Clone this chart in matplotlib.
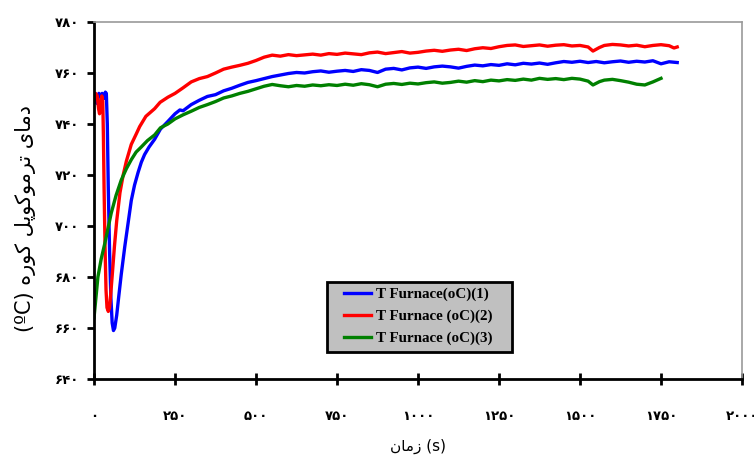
import matplotlib
matplotlib.use('Agg')
import matplotlib.pyplot as plt
from matplotlib.patches import Rectangle
from matplotlib.ticker import FuncFormatter, MultipleLocator

# furnace thermocouple readings
t_blue = [0, 5, 10, 15, 20, 25, 30, 35, 38, 41, 44, 48, 52, 56, 60, 64, 70, 76, 84,
          95, 105, 115, 125, 136, 146, 156, 170, 187, 205, 228,
          250, 265, 275, 300, 325, 350, 375, 400, 425, 450, 475, 500, 525, 550, 575,
          600, 625, 650, 675, 700, 725, 750, 775, 800, 825, 850, 875, 900, 925, 950,
          975, 1000, 1025, 1050, 1075, 1100, 1125, 1150, 1175, 1200, 1225, 1250, 1275,
          1300, 1325, 1350, 1375, 1400, 1425, 1450, 1475, 1500, 1525, 1550, 1575, 1600,
          1625, 1650, 1675, 1700, 1725, 1750, 1775, 1800]
T_blue = [748.5, 750, 748, 752, 751, 752, 750, 752.5, 752, 740, 715, 690, 672, 662, 659, 660, 665, 672, 681,
          692, 701, 710, 716, 721, 725, 728, 731, 734, 738, 741,
          744.0, 745.5, 745.2, 747.6, 749.3, 750.8, 751.5, 753.0, 754.0, 755.2, 756.3, 757.0, 757.8, 758.6, 759.2,
          759.8, 760.2, 760.0, 760.5, 760.8, 760.3, 760.7, 761.0, 760.6, 761.3, 761.0, 760.2, 761.5, 761.8, 761.2,
          762.0, 762.3, 761.8, 762.4, 762.7, 762.4, 761.9, 762.6, 763.1, 762.8, 763.3, 763.0, 763.6,
          763.2, 763.8, 763.5, 763.9, 763.4, 764.0, 764.5, 764.2, 764.6, 764.1, 764.5, 764.0, 764.4,
          764.7, 764.2, 764.6, 764.3, 764.8, 763.6, 764.4, 764.1]

t_red = [0, 5, 10, 14, 17, 20, 24, 27, 29, 31, 34, 37, 40, 44, 48, 52, 57, 63, 70, 80,
         90, 100, 115, 130, 141, 160, 187, 204, 228,
         250, 275, 300, 325, 350, 375, 400, 425, 450, 475, 500, 525, 550, 575, 600, 625,
         650, 675, 700, 725, 750, 775, 800, 825, 850, 875, 900, 925, 950, 975, 1000,
         1025, 1050, 1075, 1100, 1125, 1150, 1175, 1200, 1225, 1250, 1275, 1300, 1325,
         1350, 1375, 1400, 1425, 1450, 1475, 1500, 1525, 1540, 1560, 1575, 1600, 1625,
         1650, 1675, 1700, 1725, 1750, 1775, 1790, 1800]
T_red = [750.5, 752, 751, 746, 744, 748, 751, 749, 735, 715, 692, 675, 668, 666.5, 668, 674, 682, 692, 702, 713,
         720, 725.5, 732, 736, 739, 743, 746, 748.5, 750.5,
         752.0, 754.2, 756.5, 757.8, 758.6, 760.0, 761.5, 762.3, 763.0, 763.8, 764.9, 766.2, 767.0, 766.6, 767.2, 766.8,
         767.1, 767.4, 767.0, 767.6, 767.3, 767.8, 767.5, 767.2, 767.9, 768.2, 767.6, 768.0, 768.4, 767.8, 768.1,
         768.6, 768.9, 768.5, 769.0, 769.3, 768.8, 769.5, 769.9, 769.6, 770.3, 770.8, 771.0, 770.4,
         770.7, 771.0, 770.5, 770.9, 771.1, 770.6, 770.8, 770.2, 768.6, 770.0, 770.8, 771.2, 771.0,
         770.6, 770.9, 770.3, 770.8, 771.1, 770.7, 769.8, 770.2]

t_green = [0, 12, 22, 33, 43, 53, 68, 84, 100, 115, 130, 146, 165, 187, 205, 228,
           250, 275, 300, 325, 350, 375, 400, 425, 450, 475, 500, 525, 550, 575, 600,
           625, 650, 675, 700, 725, 750, 775, 800, 825, 850, 875, 900, 925, 950, 975,
           1000, 1025, 1050, 1075, 1100, 1125, 1150, 1175, 1200, 1225, 1250, 1275, 1300,
           1325, 1350, 1375, 1400, 1425, 1450, 1475, 1500, 1525, 1540, 1560, 1575, 1600,
           1625, 1650, 1675, 1700, 1725, 1750]
T_green = [664, 680, 687, 693, 699, 705, 712, 718, 722.5, 726, 729, 731, 733.5, 735.7, 738.5, 740,
           742.0, 743.6, 745.0, 746.5, 747.6, 748.8, 750.2, 751.0, 752.0, 752.8, 753.8, 754.8, 755.5, 755.0, 754.6,
           755.1, 754.8, 755.3, 755.0, 755.4, 755.1, 755.6, 755.2, 755.8, 755.4, 754.6, 755.6, 755.9, 755.5, 756.0,
           755.7, 756.2, 756.5, 756.0, 756.3, 756.8, 756.4, 757.0, 756.6, 757.2, 756.9, 757.4, 757.1,
           757.6, 757.2, 757.9, 757.5, 757.8, 757.4, 757.9, 757.6, 756.8, 755.3, 756.6, 757.2, 757.5,
           757.0, 756.4, 755.6, 755.3, 756.5, 757.9]

labels = ['T Furnace(oC)(1)', 'T Furnace (oC)(2)', 'T Furnace (oC)(3)']

# persian text, written in presentation forms in visual order
# "دمای ترموکوپل کوره (ºC)"
ylabel_txt = ('(\u00baC) '
              '\uFEE9\uFEAD\uFEEE\uFB90 '
              '\uFEDE\uFB58\uFEEE\uFB90\uFEEE\uFEE3\uFEAE\uFE97 '
              '\uFBFC\uFE8E\uFEE3\uFEA9')
# "زمان (s)"
xlabel_txt = '\uFEE5\uFE8E\uFEE3\uFEAF (s)'

FA_DIGITS = str.maketrans('0123456789', '\u06f0\u06f1\u06f2\u06f3\u06f4\u06f5\u06f6\u06f7\u06f8\u06f9')


def fa_num(v, pos):
    return str(int(round(v))).translate(FA_DIGITS)


def main():
    plt.rcParams['font.family'] = ['DejaVu Sans']
    fig = plt.figure(figsize=(7.54, 4.58), dpi=100)
    ax = fig.add_axes([0.1247, 0.1725, 0.8594, 0.7795])

    ax.plot(t_blue, T_blue, color='#0000ff', lw=2.4, label=labels[0])
    ax.plot(t_red, T_red, color='#ff0000', lw=2.4, label=labels[1])
    ax.plot(t_green, T_green, color='#008000', lw=2.4, label=labels[2])

    ax.set_xlim(0, 2000)
    ax.set_ylim(640, 780)
    ax.xaxis.set_major_locator(MultipleLocator(250))
    ax.yaxis.set_major_locator(MultipleLocator(20))
    ax.xaxis.set_major_formatter(FuncFormatter(fa_num))
    ax.yaxis.set_major_formatter(FuncFormatter(fa_num))

    for s in ['left', 'bottom']:
        ax.spines[s].set_linewidth(2.0)
        ax.spines[s].set_color('black')
    for s in ['top', 'right']:
        ax.spines[s].set_linewidth(1.2)
        ax.spines[s].set_color('#9a9a9a')

    ax.tick_params(axis='y', direction='out', length=5, width=2, pad=6, labelsize=9.5)
    ax.tick_params(axis='x', direction='inout', length=8, width=2, pad=18, labelsize=9.5)
    for lab in ax.get_xticklabels() + ax.get_yticklabels():
        lab.set_fontweight('bold')

    ax.set_xlabel(xlabel_txt, fontsize=11, labelpad=12)
    ax.set_ylabel(ylabel_txt, fontsize=15)
    ax.yaxis.set_label_coords(-0.09, 0.45)

    # legend box drawn by hand so the padding matches
    box = Rectangle((0.3596, 0.0756), 0.2855, 0.196, transform=ax.transAxes,
                    facecolor='#c0c0c0', edgecolor='black', lw=2.0, zorder=4.5)
    ax.add_patch(box)
    leg = ax.legend(loc='upper left', bbox_to_anchor=(0.386, 0.256), borderaxespad=0,
                    frameon=False, borderpad=0,
                    prop={'family': 'Liberation Serif', 'weight': 'bold', 'size': 10.8},
                    handlelength=1.8, handletextpad=0.3, labelspacing=0.55)
    leg.set_zorder(5)

    fig.savefig('out.png', dpi=100)


if __name__ == '__main__':
    main()
